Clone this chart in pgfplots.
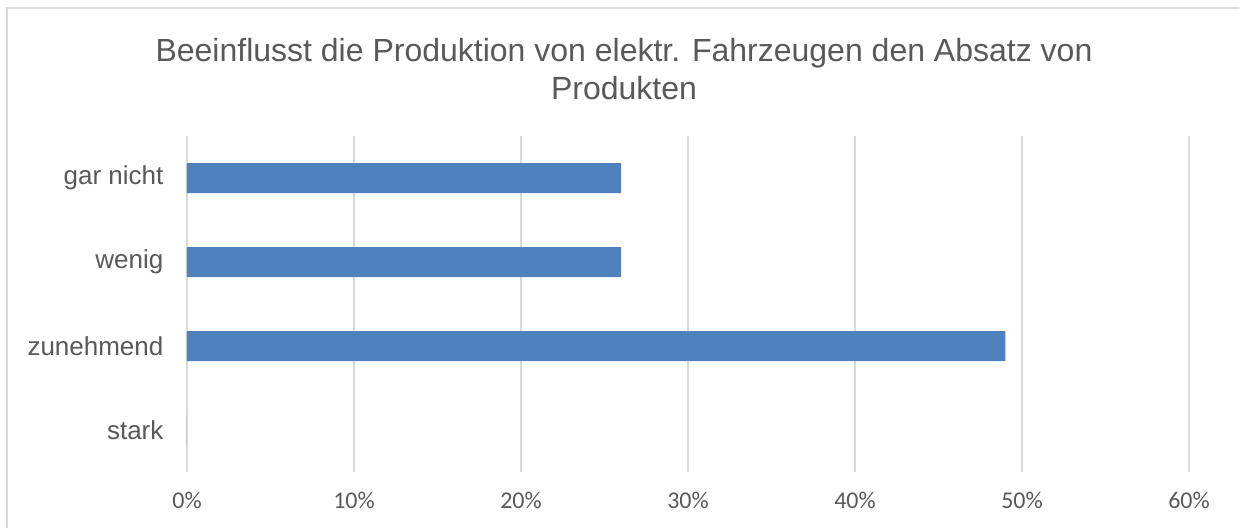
\documentclass[border=0pt]{standalone}
\usepackage{fontspec}
\setmainfont{Liberation Sans}
\newfontfamily\tickfont{Carlito}
\usepackage{pgfplots}
\pgfplotsset{compat=1.18}
\definecolor{barblue}{HTML}{4F81BD}
\definecolor{txtgray}{HTML}{595959}
\definecolor{gridgray}{HTML}{D9D9D9}
\begin{document}
\begin{tikzpicture}[x=0.5pt,y=0.5pt]
\path[use as bounding box] (0,0) rectangle (1239,527);
\fill[white] (0,0) rectangle (1239,527);
\draw[gridgray, line width=1pt] (7,-5) rectangle (1245,519);
\node[align=center, text=txtgray, font=\fontsize{16}{19}\selectfont] at (624,458)
  {Beeinflusst die Produktion von elektr. Fahrzeugen den Absatz von\\Produkten};
\begin{axis}[
  at={(93.5pt,27.5pt)}, anchor=south west,
  scale only axis, width=501pt, height=168pt,
  xbar, bar width=15pt,
  xmin=0, xmax=60, ymin=-0.5, ymax=3.5,
  xtick={0,10,...,60},
  xticklabel={\pgfmathprintnumber{\tick}\%},
  ytick={0,1,2,3},
  yticklabels={stark, zunehmend, wenig, gar nicht},
  xmajorgrids, grid style={gridgray, line width=0.8pt},
  axis line style={draw=none},
  major tick style={draw=none},
  /pgf/number format/assume math mode=true,
  xticklabel style={font=\tickfont\fontsize{12}{14}\selectfont, text=txtgray, yshift=-6.5pt},
  yticklabel style={font=\fontsize{13}{15}\selectfont, text=txtgray, xshift=-4pt},
]
\addplot[fill=barblue, draw=none] coordinates {(0,0) (49,1) (26,2) (26,3)};
\end{axis}
\end{tikzpicture}
\end{document}
